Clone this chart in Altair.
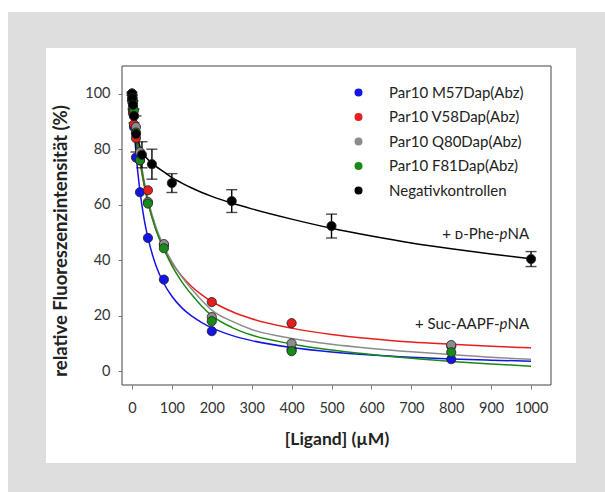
import altair as alt
import pandas as pd

# ---------------- data ----------------
series = ["Par10 M57Dap(Abz)", "Par10 V58Dap(Abz)", "Par10 Q80Dap(Abz)",
          "Par10 F81Dap(Abz)", "Negativkontrollen"]
colors = ["#1414e6", "#e61e1e", "#8c8c8c", "#178a17", "#000000"]

prot_conc = [0, 1, 2.5, 5, 10, 20, 40, 80, 200, 400, 800]
blue_y = [100, 98, 94, 88, 77, 64.5, 48, 33, 14.4, 7.8, 4.3]
red_y = [100, 97, 93, 89, 84, 76, 65.2, 45.5, 24.9, 17.3, 9.0]
grey_y = [100, 98, 95, 92, 88, 79, 61, 45.8, 19.5, 10, 9.4]
green_y = [100, 98.5, 97, 94, 86, 76, 60.4, 44.3, 18, 7.2, 6.8]

ctrl_conc = [0, 1, 2.5, 5, 10, 25, 50, 100, 250, 500, 1000]
ctrl_y = [100, 98.5, 96, 92, 85.5, 78, 74.6, 67.8, 61.3, 52.3, 40.4]
ctrl_err = [0.5, 1, 1.5, 2.5, 6.5, 4.7, 5.4, 3.4, 4.1, 4.3, 2.7]

curve_x = [0, 2, 5, 10, 15, 20, 30, 40, 60, 80, 100, 125, 150, 175, 200, 250, 300, 400,
           500, 600, 700, 800, 900, 1000]
blue_fit = [100, 94.9, 88.1, 78.7, 71.2, 64.9, 55.2, 48.1, 38.1, 31.6, 27.0,
            22.8, 19.8, 17.5, 15.6, 12.9, 11.0, 8.5, 6.9, 5.8, 5.0, 4.4, 3.95, 3.6]
red_fit = [100, 96.8, 92.4, 85.9, 80.3, 75.4, 67.3, 60.8, 51.1, 44.2, 39.0,
           34.2, 30.4, 27.5, 25.1, 21.5, 18.9, 15.5, 13.2, 11.7, 10.5, 9.7, 9.0, 8.4]
grey_fit = [100, 97, 93, 87, 82, 77.5, 69, 62, 52, 45, 39.5,
            34.0, 29.5, 25.5, 22, 18.0, 15, 11.8, 9.7, 8.2, 7.0, 6.0, 5.0, 4.3]
green_fit = [100, 97, 93, 86.5, 81, 76.5, 68, 61, 51, 44, 38,
             32.2, 27.5, 23.4, 20, 15.8, 13, 9.8, 7.6, 6.0, 4.6, 3.5, 2.6, 1.8]
ctrl_fit = [98, 95, 91, 86.5, 83.5, 81, 78, 76.3, 73.8, 71.8, 69.8,
            67.8, 66, 64.4, 63, 60.6, 58.5, 54.8, 51.5, 48.7, 46.2, 44.1, 42.2, 40.5]

ann_x = [995, 995]
ann_y = [49.4, 16.9]
ann_prefix = ["+ \u1d05-Phe-", "+ Suc-AAPF-"]
ann_italic = ["p", "p"]
ann_suffix = ["NA", "NA"]

x_title = "[Ligand] (\u00b5M)"
y_title = "relative Fluoreszenzintensit\u00e4t (%)"
x_ticks = [0, 100, 200, 300, 400, 500, 600, 700, 800, 900, 1000]
y_ticks = [0, 20, 40, 60, 80, 100]
x_domain = [-25, 1050]
y_domain = [-5, 110]

# ---------------- tables ----------------
pts_rows = []
for name, ys in zip(series[:4], [blue_y, red_y, grey_y, green_y]):
    for xv, yv in zip(prot_conc, ys):
        pts_rows.append({"series": name, "x": xv, "y": yv})
for xv, yv in zip(ctrl_conc, ctrl_y):
    pts_rows.append({"series": series[4], "x": xv, "y": yv})
pts = pd.DataFrame(pts_rows)

fit_rows = []
for name, ys in zip(series, [blue_fit, red_fit, grey_fit, green_fit, ctrl_fit]):
    for xv, yv in zip(curve_x, ys):
        fit_rows.append({"series": name, "x": xv, "y": yv})
fits = pd.DataFrame(fit_rows)

err = pd.DataFrame({"x": ctrl_conc,
                    "lo": [a - b for a, b in zip(ctrl_y, ctrl_err)],
                    "hi": [a + b for a, b in zip(ctrl_y, ctrl_err)]})

ann = pd.DataFrame({"x": ann_x, "y": ann_y, "pre": ann_prefix,
                    "it": ann_italic, "suf": ann_suffix})

frame_df = pd.DataFrame({"x": [x_domain[0]], "x2": [x_domain[1]],
                         "y": [y_domain[0]], "y2": [y_domain[1]]})
one = pd.DataFrame({"a": [0]})
ytitle_df = pd.DataFrame({"t": [y_title]})

FONT = "Lato"
W, H = 429, 319

xs = alt.Scale(domain=x_domain, nice=False, zero=False)
ys_ = alt.Scale(domain=y_domain, nice=False, zero=False)
cscale = alt.Scale(domain=series, range=colors)

x_axis = alt.Axis(values=x_ticks, format="d", title=x_title, grid=False,
                  domain=False, tickSize=4, tickColor="#777", labelPadding=12,
                  labelFont=FONT, labelFontSize=14.5, labelColor="#333", titleFont=FONT,
                  titleFontSize=17.5, titleFontWeight="bold", titleColor="#222",
                  titleBaseline="middle", titleY=54, labelFlush=False, zindex=2)
y_axis = alt.Axis(values=y_ticks, format="d", title=None,
                  grid=False, domain=False, tickSize=4, tickColor="#777", labelPadding=8,
                  labelFont=FONT, labelFontSize=14.5, labelColor="#333",
                  labelFlush=False, zindex=2)

grey_bg = alt.Chart(one).mark_rect(color="#dedede").encode(
    x=alt.value(-114), x2=alt.value(483), y=alt.value(-54), y2=alt.value(426))
white_bg = alt.Chart(one).mark_rect(color="#ffffff").encode(
    x=alt.value(-76), x2=alt.value(454), y=alt.value(-18), y2=alt.value(397))

ytitle = alt.Chart(ytitle_df).mark_text(
    font=FONT, fontSize=18.5, fontWeight="bold", color="#222", angle=270,
    align="center", baseline="middle").encode(
    x=alt.value(-61), y=alt.value(175), text="t:N")

lines = alt.Chart(fits).mark_line(strokeWidth=1.5, interpolate="monotone").encode(
    x=alt.X("x:Q", scale=xs, axis=x_axis),
    y=alt.Y("y:Q", scale=ys_, axis=y_axis),
    stroke=alt.Stroke("series:N", scale=cscale, legend=None),
    order=alt.Order("x:Q"),
)

err_rule = alt.Chart(err).mark_rule(color="#000", strokeWidth=1.4).encode(
    x=alt.X("x:Q", scale=xs), y=alt.Y("lo:Q", scale=ys_), y2="hi:Q")
cap_lo = alt.Chart(err).mark_tick(color="#000", orient="horizontal", size=11,
                                  thickness=1.4).encode(
    x=alt.X("x:Q", scale=xs), y=alt.Y("lo:Q", scale=ys_))
cap_hi = alt.Chart(err).mark_tick(color="#000", orient="horizontal", size=11,
                                  thickness=1.4).encode(
    x=alt.X("x:Q", scale=xs), y=alt.Y("hi:Q", scale=ys_))

points = alt.Chart(pts).mark_point(filled=True, shape="circle", size=85, opacity=1,
                                   stroke="#222", strokeWidth=0.8).encode(
    x=alt.X("x:Q", scale=xs),
    y=alt.Y("y:Q", scale=ys_),
    fill=alt.Fill("series:N", scale=cscale, sort=series,
                  legend=alt.Legend(title=None, orient="none", legendX=229, legendY=19,
                                    labelFont=FONT, labelFontSize=15, labelColor="#222",
                                    symbolType="circle", symbolSize=64,
                                    symbolStrokeWidth=0, rowPadding=8.5, labelOffset=23,
                                    padding=0, labelLimit=300)),
)

txt_common = dict(font=FONT, fontSize=15, color="#222", baseline="middle", align="right")
ann_suf = alt.Chart(ann).mark_text(**txt_common).encode(
    x=alt.X("x:Q", scale=xs), y=alt.Y("y:Q", scale=ys_), text="suf:N")
ann_it = alt.Chart(ann).mark_text(fontStyle="italic", dx=-21.5, **txt_common).encode(
    x=alt.X("x:Q", scale=xs), y=alt.Y("y:Q", scale=ys_), text="it:N")
ann_pre = alt.Chart(ann).mark_text(dx=-29.5, **txt_common).encode(
    x=alt.X("x:Q", scale=xs), y=alt.Y("y:Q", scale=ys_), text="pre:N")

frame = alt.Chart(frame_df).mark_rect(filled=False, stroke="#444", strokeWidth=1,
                                      fillOpacity=0).encode(
    x=alt.X("x:Q", scale=xs), x2="x2:Q", y=alt.Y("y:Q", scale=ys_), y2="y2:Q")

chart = alt.layer(grey_bg, white_bg, ytitle, lines, err_rule, cap_lo, cap_hi, points,
                  ann_suf, ann_it, ann_pre, frame).resolve_scale(
    fill="independent", stroke="independent"
).properties(
    width=W, height=H,
    autosize=alt.AutoSizeParams(type="none"),
    padding={"left": 122, "top": 66, "right": 54, "bottom": 107},
    background="#ffffff",
).configure_view(stroke=None)

chart.save("out.html", embed_options={"renderer": "svg", "actions": False})
